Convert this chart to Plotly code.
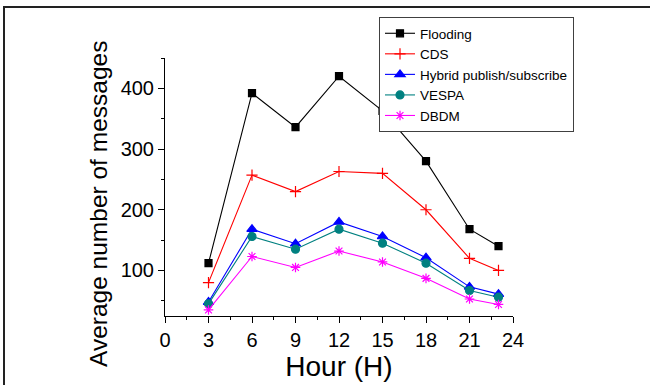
import plotly.graph_objects as go

hours = [3, 6, 9, 12, 15, 18, 21, 23]
flooding = [112, 392, 336, 420, 363, 280, 168, 140]
cds = [80, 257, 230, 263, 260, 200, 120, 100]
hybrid = [48, 168, 144, 180, 156, 121, 73, 61]
vespa = [45, 156, 135, 168, 145, 112, 67, 56]
dbdm = [35, 123, 105, 132, 114, 87, 53, 44]

series = [
    ("Flooding", flooding, "black", "square", 7),
    ("CDS", cds, "red", "cross-thin", 8),
    ("Hybrid publish/subscribe", hybrid, "blue", "triangle-up", 9),
    ("VESPA", vespa, "#008080", "circle", 8),
    ("DBDM", dbdm, "magenta", "asterisk", 8),
]

fig = go.Figure()
for name, vals, color, sym, size in series:
    fig.add_trace(go.Scatter(
        x=hours, y=vals, name=name, mode="lines+markers",
        line=dict(color=color, width=1.1),
        marker=dict(symbol=sym, size=size, color=color,
                    line=dict(color=color, width=1.2)),
    ))

L, R, T, B = 165, 137, 58, 69
W, H = 650, 385
pw, ph = W - L - R, H - T - B

def px_x(p):
    return (p - L) / pw

def px_y(p):
    return (H - B - p) / ph

font = "Liberation Sans, Arial, sans-serif"
fig.update_layout(
    width=W, height=H,
    margin=dict(l=L, r=R, t=T, b=B, pad=0, autoexpand=False),
    paper_bgcolor="white", plot_bgcolor="white",
    font=dict(family=font, color="black"),
    showlegend=True,
    legend=dict(
        x=px_x(379), y=px_y(17), xanchor="left", yanchor="top",
        bordercolor="#404040", borderwidth=1, bgcolor="white",
        font=dict(size=13.5, family=font), tracegroupgap=0,
        itemsizing="trace",
    ),
    xaxis=dict(
        range=[0, 24], tick0=0, dtick=3, showgrid=False, zeroline=False,
        showline=True, linecolor="black", linewidth=1, automargin=False,
        ticks="outside", ticklen=6, tickcolor="black",
        minor=dict(dtick=1.5, ticks="outside", ticklen=3, tickcolor="black"),
        tickfont=dict(size=20),
        title=dict(text="Hour (H)", font=dict(size=28), standoff=1),
    ),
    yaxis=dict(
        range=[25, 450], tick0=0, dtick=100, showgrid=False, zeroline=False,
        showline=True, linecolor="black", linewidth=1, automargin=False,
        ticks="outside", ticklen=6, tickcolor="black",
        minor=dict(dtick=50, ticks="outside", ticklen=3, tickcolor="black"),
        tickfont=dict(size=20),
    ),
    annotations=[dict(
        text="Average number of messages", textangle=-90,
        xref="paper", yref="paper", x=px_x(98), y=px_y(204),
        xanchor="center", yanchor="middle", showarrow=False,
        font=dict(size=24.5, family=font),
    )],
    shapes=[dict(
        type="rect", xref="paper", yref="paper",
        x0=px_x(4), x1=px_x(655), y0=px_y(392), y1=px_y(7),
        line=dict(color="#222222", width=2), layer="below",
    )],
)

fig.write_html("out.html", config={"displayModeBar": False},
               post_script="document.body.style.margin='0';")
